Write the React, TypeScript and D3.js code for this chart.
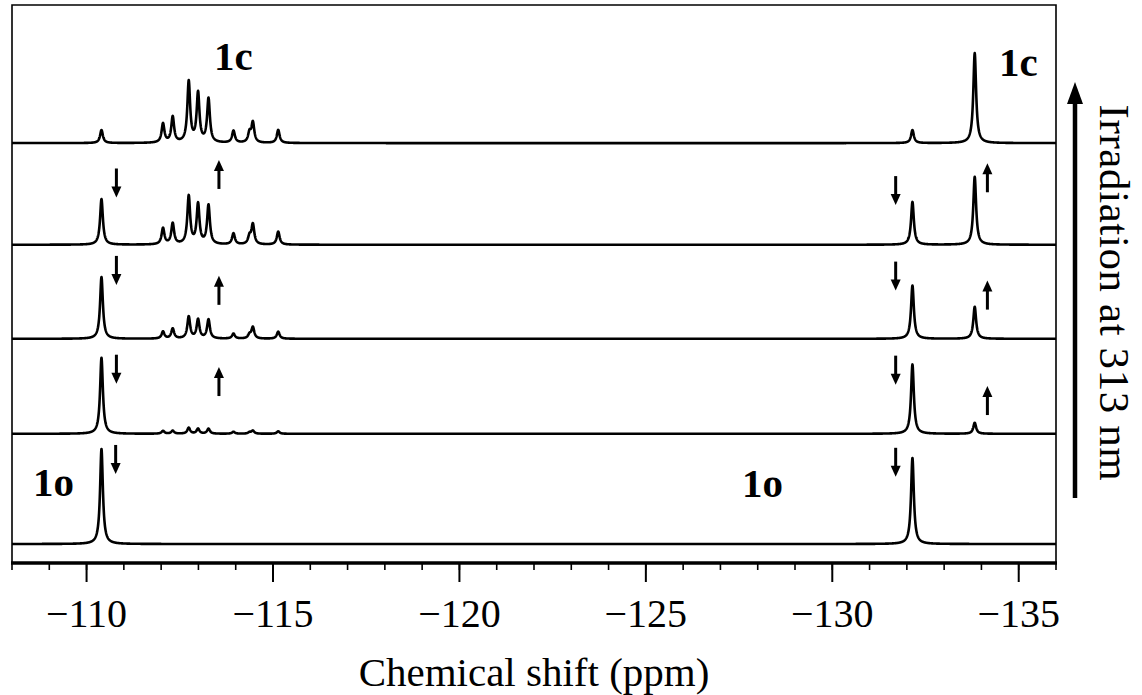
import React from "react";
import * as d3 from "d3";

// 19F NMR stack: 1o converting to 1c under 313 nm irradiation (bottom = before, top = PSS)
const PPM_LEFT = -108;
const PPM_RIGHT = -136;

// Peak positions (ppm) of the two isomers
const PEAKS_1O = [-110.4, -132.15];
const PEAKS_1C = [-112.05, -112.31, -112.74, -112.99, -113.27, -113.94, -114.37, -114.46, -115.14, -133.82];

// Peak heights per spectrum (bottom → top), arbitrary units (1o at t=0 → 100)
const H1O = [
  [100, 90.5],
  [80, 73],
  [65, 56],
  [48, 45],
  [13.7, 13.7],
];
const H1C = [
  [0, 0, 0, 0, 0, 0, 0, 0, 0, 0],
  [3, 3.2, 6.3, 5.3, 5.3, 2.1, 1.5, 3.2, 2.6, 11.6],
  [7.4, 10.5, 23, 20, 20, 5.3, 4, 12, 7.4, 33.7],
  [17, 22, 50.5, 42, 41, 11.6, 8, 21, 13.7, 71.6],
  [20, 27, 64, 51.6, 46, 12.6, 10, 21, 13.7, 94.7],
];
// Vertical stacking offsets of each spectrum (same units)
const OFFSETS = [0, 116, 216, 315, 422];
const HWHM = 0.045;

// Change markers: [spectrum index, ppm, direction, height above baseline]
const ARROWS: [number, number, "up" | "down", number][] = [
  [3, -110.8, "down", 65], [3, -113.55, "up", 74], [3, -131.7, "down", 57], [3, -134.16, "up", 70.5],
  [2, -110.8, "down", 72], [2, -113.55, "up", 51], [2, -131.7, "down", 66], [2, -134.16, "up", 46],
  [1, -110.8, "down", 68], [1, -113.55, "up", 55], [1, -131.7, "down", 67], [1, -134.16, "up", 35],
  [0, -110.78, "down", 89], [0, -131.7, "down", 86],
];

const MAJOR_TICKS = [-110, -115, -120, -125, -130, -135];
const MINOR_TICKS = d3.range(-108, -136.5, -1);

const FONT = "'Liberation Serif', 'Times New Roman', serif";

const W = 1142;
const H = 695;
const FRAME = { left: 12, right: 1056, top: 5, bottom: 563 };

const x = d3.scaleLinear().domain([PPM_LEFT, PPM_RIGHT]).range([FRAME.left, FRAME.right]);
const y = d3.scaleLinear().domain([0, 100]).range([544, 449]);

const grid = d3.range(0, 5601).map((i) => PPM_LEFT - i * 0.005);

function intensity(ppm: number, peaks: number[], heights: number[]) {
  let s = 0;
  for (let i = 0; i < peaks.length; i++) {
    const d = (ppm - peaks[i]) / HWHM;
    s += heights[i] / (1 + d * d);
  }
  return s;
}

function Arrow({ cx, cy, dir, len = 29 }: { cx: number; cy: number; dir: "up" | "down"; len?: number }) {
  const half = len / 2;
  const headL = 11;
  const headW = 5;
  const sgn = dir === "down" ? 1 : -1;
  const tip = cy + sgn * half;
  const tail = cy - sgn * half;
  const base = tip - sgn * headL;
  return (
    <g>
      <line x1={cx} x2={cx} y1={tail} y2={base + sgn * 1} stroke="#000" strokeWidth={3} />
      <polygon points={`${cx},${tip} ${cx - headW},${base} ${cx + headW},${base}`} fill="#000" />
    </g>
  );
}

export default function App() {
  const line = d3.line<[number, number]>().x((d) => x(d[0])).y((d) => d[1]);

  const paths = OFFSETS.map((off, k) => {
    const pts: [number, number][] = grid.map((p) => [
      p,
      y(off + intensity(p, PEAKS_1O, H1O[k]) + intensity(p, PEAKS_1C, H1C[k])),
    ]);
    return line(pts) as string;
  });

  const labelStyle = { fontFamily: FONT, fontWeight: 700, fontSize: 41 } as const;

  return (
    <div style={{ position: "absolute", left: 0, top: 0, background: "#fff" }}>
      <svg width={W} height={H} style={{ display: "block" }}>
        <rect width={W} height={H} fill="#fff" />
        <defs>
          <clipPath id="plot-clip">
            <rect x={FRAME.left} y={FRAME.top} width={FRAME.right - FRAME.left} height={FRAME.bottom - FRAME.top} />
          </clipPath>
        </defs>

        {/* spectra */}
        <g clipPath="url(#plot-clip)">
          {paths.map((d, i) => (
            <path key={i} d={d} fill="none" stroke="#000" strokeWidth={2.6} strokeLinejoin="round" />
          ))}
        </g>

        {/* frame */}
        <path
          d={`M${FRAME.left},${FRAME.bottom} V${FRAME.top} H${FRAME.right} V${FRAME.bottom}`}
          fill="none"
          stroke="#000"
          strokeWidth={1.6}
        />
        <line x1={FRAME.left - 1} x2={FRAME.right + 1} y1={FRAME.bottom} y2={FRAME.bottom} stroke="#000" strokeWidth={3.5} />

        {/* x axis ticks */}
        {MINOR_TICKS.map((t) => (
          <line key={`m${t}`} x1={x(t)} x2={x(t)} y1={FRAME.bottom} y2={FRAME.bottom + 7} stroke="#000" strokeWidth={1.6} />
        ))}
        {MAJOR_TICKS.map((t) => (
          <g key={`M${t}`}>
            <line x1={x(t)} x2={x(t)} y1={FRAME.bottom} y2={FRAME.bottom + 19} stroke="#000" strokeWidth={2} />
            <text x={x(t)} y={627} textAnchor="middle" fontFamily={FONT} fontSize={40}>
              {d3.format("d")(t)}
            </text>
          </g>
        ))}
        <text x={(FRAME.left + FRAME.right) / 2} y={686} textAnchor="middle" fontFamily={FONT} fontSize={41}>
          Chemical shift (ppm)
        </text>

        {/* change markers */}
        {ARROWS.map(([k, ppm, dir, h], i) => (
          <Arrow key={i} cx={x(ppm)} cy={y(OFFSETS[k] + h)} dir={dir} />
        ))}

        {/* species labels */}
        <text x={214} y={70} {...labelStyle}>1c</text>
        <text x={999} y={76} {...labelStyle}>1c</text>
        <text x={33} y={496} {...labelStyle}>1o</text>
        <text x={742} y={497} {...labelStyle}>1o</text>

        {/* irradiation direction */}
        <line x1={1075} x2={1075} y1={498} y2={100} stroke="#000" strokeWidth={4.5} />
        <polygon points="1075,82 1067,104 1083,104" fill="#000" />
        <text
          transform="translate(1100,293) rotate(90)"
          textAnchor="middle"
          fontFamily={FONT}
          fontSize={43}
          letterSpacing={0.6}
        >
          Irradiation at 313 nm
        </text>
      </svg>
    </div>
  );
}
